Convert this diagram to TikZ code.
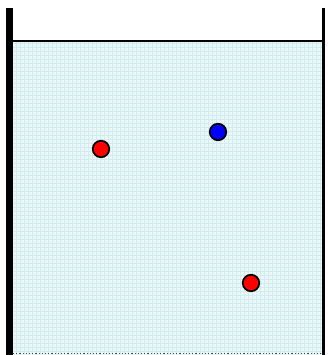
\documentclass[tikz,border=0pt]{standalone}
\usepackage{tikz}
\definecolor{water}{RGB}{236,247,247}
\definecolor{gridc}{RGB}{208,236,238}
\definecolor{ballred}{RGB}{255,0,0}
\definecolor{ballblue}{RGB}{0,0,255}
\tikzset{
  ball/.style={circle, draw=black, line width=1.7pt, minimum size=16.5pt, inner sep=0pt},
  wall/.style={fill=black, draw=none}
}
\begin{document}
\begin{tikzpicture}[x=1pt,y=1pt]
\useasboundingbox (0,0) rectangle (327,355);
\fill[white] (0,0) rectangle (327,355);
% water
\fill[water] (13,0) rectangle (322,313);
\begin{scope}
\clip (13,0) rectangle (322,313);
\draw[gridc, line width=0.8pt, step=4pt] (13,0) grid (322,313);
\end{scope}
% walls
\fill[wall] (6,0) rectangle (13,347);
\fill[wall] (322,0) rectangle (325,347);
% water surface
\draw[black, line width=2.4pt] (13,314) -- (322,314);
% bottom edge
\draw[black!70, line width=1.2pt, dotted] (13,1.5) -- (322,1.5);
% balls
\node[ball, fill=ballred] (r1) at (101,206) {};
\node[ball, fill=ballblue] (b1) at (218,223) {};
\node[ball, fill=ballred] (r2) at (251,72) {};
\end{tikzpicture}
\end{document}
